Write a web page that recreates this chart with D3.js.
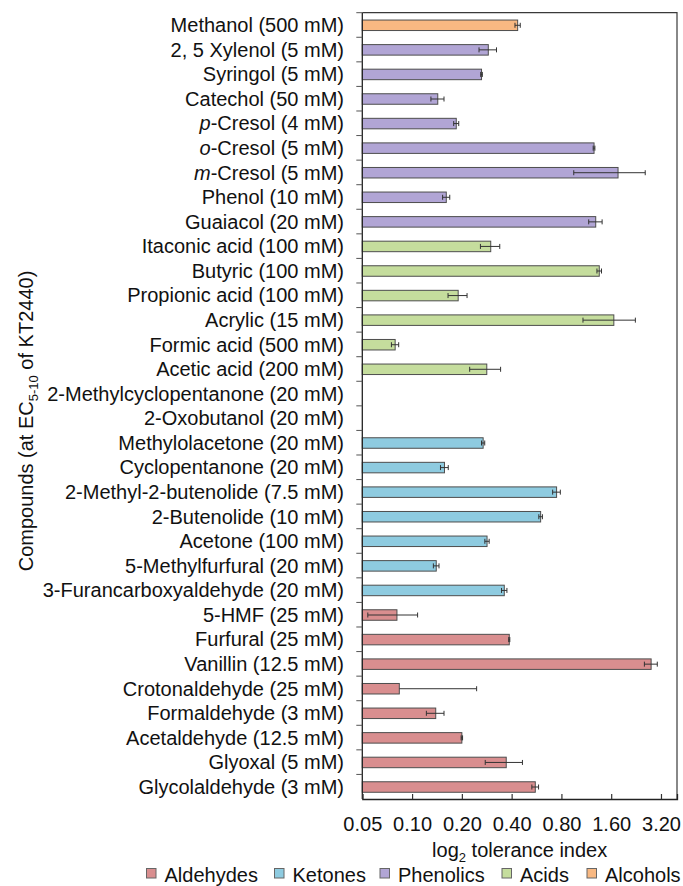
<!DOCTYPE html>
<html>
<head>
<meta charset="utf-8">
<script src="https://cdn.jsdelivr.net/npm/d3@7"></script>
<style>
  html, body { margin: 0; padding: 0; background: #fff; }
  svg { display: block; font-family: "Liberation Sans", Arial, sans-serif; }
</style>
</head>
<body>
<svg id="chart" width="683" height="886"></svg>
<script>
// ---- data (top to bottom) ----
const compounds = [
  "Methanol (500 mM)", "2, 5 Xylenol (5 mM)", "Syringol (5 mM)", "Catechol (50 mM)",
  "p-Cresol (4 mM)", "o-Cresol (5 mM)", "m-Cresol (5 mM)", "Phenol (10 mM)", "Guaiacol (20 mM)",
  "Itaconic acid (100 mM)", "Butyric (100 mM)", "Propionic acid (100 mM)", "Acrylic (15 mM)",
  "Formic acid (500 mM)", "Acetic acid (200 mM)",
  "2-Methylcyclopentanone (20 mM)", "2-Oxobutanol (20 mM)", "Methylolacetone (20 mM)",
  "Cyclopentanone (20 mM)", "2-Methyl-2-butenolide (7.5 mM)", "2-Butenolide (10 mM)",
  "Acetone (100 mM)", "5-Methylfurfural (20 mM)", "3-Furancarboxyaldehyde (20 mM)",
  "5-HMF (25 mM)", "Furfural (25 mM)", "Vanillin (12.5 mM)", "Crotonaldehyde (25 mM)",
  "Formaldehyde (3 mM)", "Acetaldehyde (12.5 mM)", "Glyoxal (5 mM)", "Glycolaldehyde (3 mM)"
];
const italicPrefix = ["", "", "", "", "p", "o", "m", "", "", "", "", "", "", "", "", "", "", "", "", "", "", "", "", "", "", "", "", "", "", "", "", ""];
const groups = [
  "Alcohols", "Phenolics", "Phenolics", "Phenolics", "Phenolics", "Phenolics", "Phenolics", "Phenolics", "Phenolics",
  "Acids", "Acids", "Acids", "Acids", "Acids", "Acids",
  "Ketones", "Ketones", "Ketones", "Ketones", "Ketones", "Ketones", "Ketones", "Ketones", "Ketones",
  "Aldehydes", "Aldehydes", "Aldehydes", "Aldehydes", "Aldehydes", "Aldehydes", "Aldehydes", "Aldehydes"
];
const tolerance = [
  0.435, 0.289, 0.263, 0.143, 0.185, 1.26, 1.76, 0.161, 1.29,
  0.299, 1.355, 0.190, 1.66, 0.079, 0.283,
  null, null, 0.269, 0.157, 0.748, 0.599, 0.284, 0.140, 0.361,
  0.081, 0.387, 2.79, 0.0837, 0.139, 0.200, 0.371, 0.556
];
const errors = [
  0.016, 0.035, 0.003, 0.013, 0.0065, 0.015, 0.81, 0.008, 0.12,
  0.04, 0.043, 0.025, 0.58, 0.004, 0.06,
  null, null, 0.006, 0.0085, 0.04, 0.015, 0.0085, 0.0055, 0.0135,
  0.027, 0.003, 0.25, 0.162, 0.017, 0.002, 0.094, 0.026
];
const xTicks = [0.05, 0.10, 0.20, 0.40, 0.80, 1.60, 3.20];
const legendGroups = ["Aldehydes", "Ketones", "Phenolics", "Acids", "Alcohols"];
const groupColors = ["#d98e8f", "#8ecbe0", "#b1a5d5", "#c5dd9d", "#f8b882"];

// ---- layout ----
const svg = d3.select("#chart");
const L = 362.3, R = 677, T = 12.7, B = 799;

const x = d3.scaleLog().base(2).domain([0.05, 4.0]).range([L, R]);
const y = d3.scaleBand().domain(compounds).range([T, B]).padding(0);
const color = d3.scaleOrdinal().domain(legendGroups).range(groupColors);

const rows = compounds.map((c, i) => ({ name: c, it: italicPrefix[i], group: groups[i], v: tolerance[i], e: errors[i] }));

// frame (top & right)
svg.append("path")
  .attr("d", `M${L},${T}H${R}V${B}`)
  .attr("fill", "none").attr("stroke", "#3a3a3a").attr("stroke-width", 1.2);

// bars
const barH = 10.5;
svg.append("g").selectAll("rect")
  .data(rows.filter(d => d.v != null))
  .join("rect")
  .attr("x", L)
  .attr("y", d => y(d.name) + y.bandwidth() / 2 - barH / 2 + 0.3)
  .attr("width", d => x(d.v) - L)
  .attr("height", barH)
  .attr("fill", d => color(d.group))
  .attr("stroke", "#4d4d4d")
  .attr("stroke-width", 1);

// error bars
const eg = svg.append("g").attr("stroke", "#333").attr("stroke-width", 1).attr("fill", "none");
rows.filter(d => d.v != null && d.e != null).forEach(d => {
  const cy = y(d.name) + y.bandwidth() / 2 + 0.3;
  const lowV = d.v - d.e;
  const clipped = lowV <= x.domain()[0];
  const x0 = clipped ? x(d.v) : x(lowV);
  const x1 = x(d.v + d.e);
  eg.append("line").attr("x1", x0).attr("x2", x1).attr("y1", cy).attr("y2", cy);
  if (!clipped) eg.append("line").attr("x1", x0).attr("x2", x0).attr("y1", cy - 2.5).attr("y2", cy + 2.5);
  eg.append("line").attr("x1", x1).attr("x2", x1).attr("y1", cy - 2.5).attr("y2", cy + 2.5);
});

// y axis (ticks at band boundaries, outward)
const yAxisG = svg.append("g");
yAxisG.append("line").attr("x1", L).attr("x2", L).attr("y1", T).attr("y2", B)
  .attr("stroke", "#222").attr("stroke-width", 1.3);
yAxisG.selectAll("line.tk")
  .data(compounds)
  .join("line").attr("class", "tk")
  .attr("x1", L - 6).attr("x2", L)
  .attr("y1", d => y(d)).attr("y2", d => y(d))
  .attr("stroke", "#555").attr("stroke-width", 1);

// y labels
const lab = svg.append("g").attr("font-size", 20).attr("fill", "#111").attr("text-anchor", "end");
rows.forEach(d => {
  const t = lab.append("text")
    .attr("x", 344)
    .attr("y", y(d.name) + y.bandwidth() / 2)
    .attr("dy", "0.36em");
  if (d.it) {
    t.append("tspan").attr("font-style", "italic").text(d.it);
    t.append("tspan").text(d.name.slice(d.it.length));
  } else {
    t.text(d.name);
  }
});

// x axis (inward ticks)
const xAxis = d3.axisBottom(x).tickValues(xTicks).tickFormat(d3.format(".2f")).tickSize(-5).tickPadding(0);
const xg = svg.append("g").attr("transform", `translate(0,${B})`).call(xAxis);
xg.select(".domain").attr("stroke", "#222").attr("stroke-width", 1.3);
xg.selectAll(".tick line").attr("stroke", "#333").attr("stroke-width", 1.2);
xg.selectAll(".tick text")
  .attr("font-size", 20).attr("font-family", "Liberation Sans, Arial, sans-serif")
  .attr("fill", "#111").attr("y", 32).attr("dy", 0);

// x title
const xt = svg.append("text").attr("x", (L + R) / 2).attr("y", 857)
  .attr("text-anchor", "middle").attr("font-size", 20).attr("fill", "#111");
xt.append("tspan").text("log");
xt.append("tspan").attr("font-size", 13).attr("dy", 5).text("2");
xt.append("tspan").attr("dy", -5).text(" tolerance index");

// y title
const yt = svg.append("text")
  .attr("transform", "translate(33,421) rotate(-90)")
  .attr("text-anchor", "middle").attr("font-size", 20).attr("fill", "#111");
yt.append("tspan").text("Compounds (at EC");
yt.append("tspan").attr("font-size", 13).attr("dy", 5).text("5-10");
yt.append("tspan").attr("dy", -5).text(" of KT2440)");

// legend
const legX = [146.5, 274.5, 380, 502, 587];
const lg = svg.append("g");
legendGroups.forEach((g, i) => {
  lg.append("rect").attr("x", legX[i]).attr("y", 868.5).attr("width", 9.5).attr("height", 9.5)
    .attr("fill", color(g)).attr("stroke", "#666").attr("stroke-width", 1);
  lg.append("text").attr("x", legX[i] + 18).attr("y", 881.5).attr("font-size", 20).attr("fill", "#111").text(g);
});
</script>
</body>
</html>
